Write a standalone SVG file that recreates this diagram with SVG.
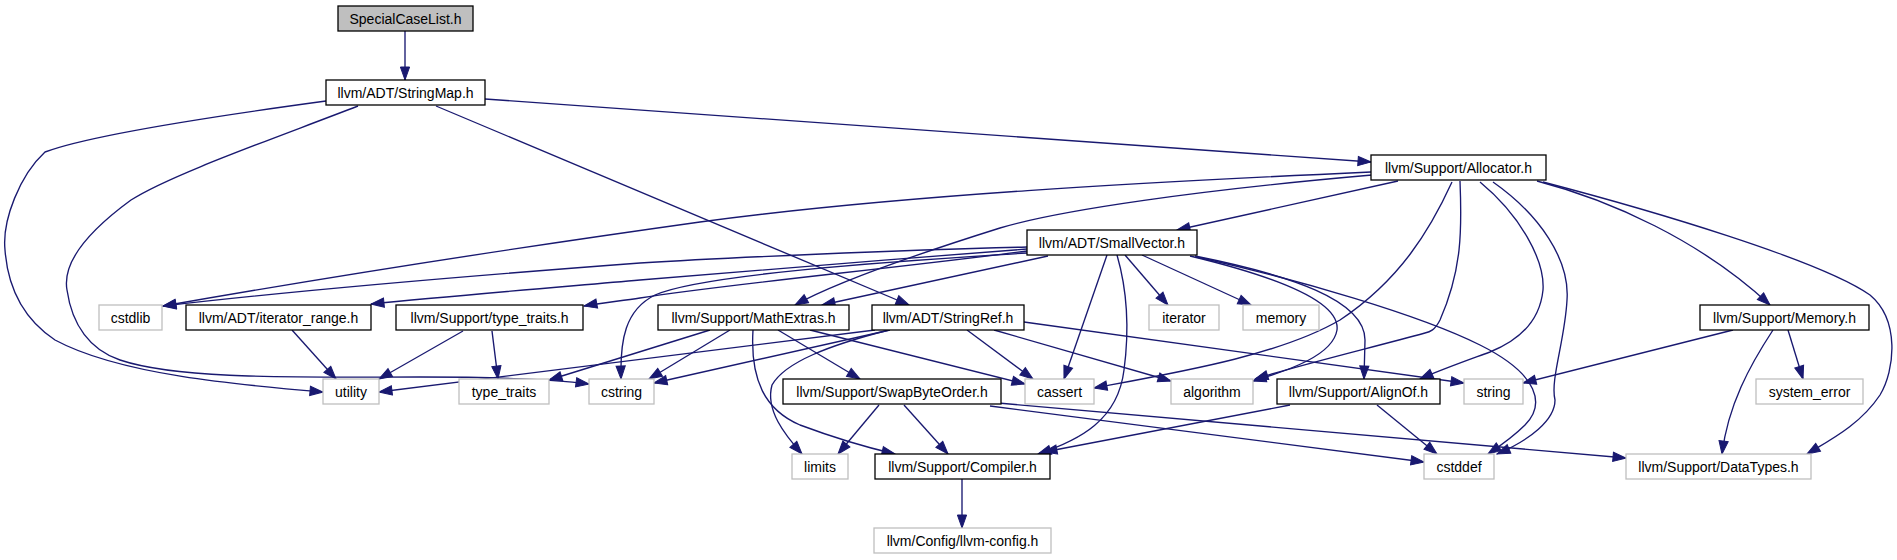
<svg xmlns="http://www.w3.org/2000/svg" width="1897" height="560" viewBox="0 0 1897 560">
<style>
.n rect{fill:#ffffff;stroke:#000000;stroke-width:1.3}
.x rect{fill:#ffffff;stroke:#bfbfbf;stroke-width:1.3}
.r rect{fill:#bfbfbf;stroke:#000000;stroke-width:1.3}
text{font-family:"Liberation Sans",Arial,sans-serif;font-size:14px;fill:#000000;text-anchor:middle}
#edges path{fill:none;stroke:#191970;stroke-width:1.35;marker-end:url(#a)}
</style>
<defs>
<marker id="a" markerWidth="14" markerHeight="10" refX="13" refY="5" orient="auto" markerUnits="userSpaceOnUse" overflow="visible">
<path d="M0,0.4 L13,5 L0,9.6 z" fill="#191970" stroke="#191970" stroke-width="1"/>
</marker>
</defs>
<rect width="1897" height="560" fill="#ffffff"/>
<g id="edges">
<path d="M405,31 L405,80"/>
<path d="M485,99 L1371,162"/>
<path d="M436,106 L909,305"/>
<path d="M358,106 C270,140 170,175 131,200 C90,230 62,262 67,290 C72,325 90,350 120,360 C180,380 300,377 420,377 C500,377 550,379 589,384"/>
<path d="M326,101 C230,114 90,135 45,152 C20,175 2,220 5,250 C8,290 25,320 55,340 C120,375 240,385 323,392"/>
<path d="M1398,181 L1177,230"/>
<path d="M1371,172 C1150,182 900,195 700,222 C500,250 300,282 163,306"/>
<path d="M1372,175 C1200,190 1060,210 1000,228 C930,250 840,280 795,305"/>
<path d="M1027,247 C900,250 720,258 640,263 C480,275 300,290 163,306"/>
<path d="M1027,249 C900,258 750,272 640,280 C560,287 450,296 371,304"/>
<path d="M1027,251 C880,270 720,285 640,298 C620,301 600,303 584,306"/>
<path d="M1027,253 C880,262 700,275 655,295 C625,310 620,340 621,379"/>
<path d="M1048,256 L822,305"/>
<path d="M1107,255 L1064,379"/>
<path d="M1117,255 C1130,300 1128,340 1124,370 C1118,420 1080,440 1038,454"/>
<path d="M1125,255 L1168,305"/>
<path d="M1142,255 L1251,305"/>
<path d="M1190,256 C1290,280 1340,305 1337,330 C1333,355 1290,370 1253,381"/>
<path d="M1195,256 C1290,275 1365,300 1365,340 L1364,379"/>
<path d="M1197,257 C1300,280 1420,315 1480,345 C1540,375 1545,405 1525,425 C1512,438 1500,446 1488,454"/>
<path d="M1452,182 C1430,230 1400,280 1340,320 C1280,355 1180,372 1094,388"/>
<path d="M1460,181 C1462,230 1462,270 1440,320 C1435,330 1430,332 1425,333 C1370,348 1300,365 1255,379"/>
<path d="M1480,182 C1520,215 1545,260 1543,290 C1540,320 1520,340 1490,352 C1460,363 1440,370 1420,379"/>
<path d="M1493,182 C1540,215 1570,260 1567,300 C1565,340 1550,380 1555,400 C1555,420 1530,440 1497,454"/>
<path d="M1537,181 C1610,200 1700,240 1770,305"/>
<path d="M1543,182 C1650,210 1820,260 1870,295 C1900,320 1895,370 1880,395 C1860,425 1830,440 1807,454"/>
<path d="M710,330 L549,380"/>
<path d="M730,330 L649,379"/>
<path d="M753,330 C750,380 765,410 800,425 C840,440 865,447 895,454"/>
<path d="M778,330 L860,379"/>
<path d="M810,330 L1025,384"/>
<path d="M875,330 L379,392"/>
<path d="M890,330 L654,383"/>
<path d="M889,330 C830,345 785,362 772,385 C765,410 785,435 802,454"/>
<path d="M967,330 L1033,379"/>
<path d="M994,330 L1171,381"/>
<path d="M1024,322 L1464,383"/>
<path d="M879,405 L838,454"/>
<path d="M904,405 L948,454"/>
<path d="M990,406 L1424,462"/>
<path d="M998,403 L1626,458"/>
<path d="M1290,405 L1044,452"/>
<path d="M1377,405 L1437,454"/>
<path d="M1733,330 L1523,383"/>
<path d="M1773,330 C1750,365 1728,405 1722,454"/>
<path d="M1788,330 L1803,379"/>
<path d="M292,330 L336,379"/>
<path d="M463,331 L379,379"/>
<path d="M492,331 L498,379"/>
<path d="M962,479 L962,528"/>
</g>
<g id="n0" class="r"><rect x="338" y="6" width="135" height="25"/><text x="405.5" y="23.5">SpecialCaseList.h</text></g>
<g id="n1" class="n"><rect x="326" y="80" width="159" height="25"/><text x="405.5" y="97.5">llvm/ADT/StringMap.h</text></g>
<g id="n2" class="n"><rect x="1371" y="155" width="175" height="25"/><text x="1458.5" y="172.5">llvm/Support/Allocator.h</text></g>
<g id="n3" class="n"><rect x="1027" y="230" width="170" height="25"/><text x="1112" y="247.5">llvm/ADT/SmallVector.h</text></g>
<g id="n4" class="x"><rect x="99" y="305" width="63" height="25"/><text x="130.5" y="322.5">cstdlib</text></g>
<g id="n5" class="n"><rect x="186" y="305" width="185" height="25"/><text x="278.5" y="322.5">llvm/ADT/iterator_range.h</text></g>
<g id="n6" class="n"><rect x="396" y="305" width="187" height="25"/><text x="489.5" y="322.5">llvm/Support/type_traits.h</text></g>
<g id="n7" class="n"><rect x="658" y="305" width="191" height="25"/><text x="753.5" y="322.5">llvm/Support/MathExtras.h</text></g>
<g id="n8" class="n"><rect x="872" y="305" width="152" height="25"/><text x="948" y="322.5">llvm/ADT/StringRef.h</text></g>
<g id="n9" class="x"><rect x="1149" y="305" width="70" height="25"/><text x="1184" y="322.5">iterator</text></g>
<g id="n10" class="x"><rect x="1243" y="305" width="76" height="25"/><text x="1281" y="322.5">memory</text></g>
<g id="n11" class="n"><rect x="1700" y="305" width="169" height="25"/><text x="1784.5" y="322.5">llvm/Support/Memory.h</text></g>
<g id="n12" class="x"><rect x="323" y="379" width="56" height="25"/><text x="351" y="396.5">utility</text></g>
<g id="n13" class="x"><rect x="459" y="379" width="90" height="25"/><text x="504" y="396.5">type_traits</text></g>
<g id="n14" class="x"><rect x="589" y="379" width="65" height="25"/><text x="621.5" y="396.5">cstring</text></g>
<g id="n15" class="n"><rect x="783" y="379" width="218" height="25"/><text x="892" y="396.5">llvm/Support/SwapByteOrder.h</text></g>
<g id="n16" class="x"><rect x="1025" y="379" width="69" height="25"/><text x="1059.5" y="396.5">cassert</text></g>
<g id="n17" class="x"><rect x="1171" y="379" width="82" height="25"/><text x="1212" y="396.5">algorithm</text></g>
<g id="n18" class="n"><rect x="1277" y="379" width="163" height="25"/><text x="1358.5" y="396.5">llvm/Support/AlignOf.h</text></g>
<g id="n19" class="x"><rect x="1464" y="379" width="59" height="25"/><text x="1493.5" y="396.5">string</text></g>
<g id="n20" class="x"><rect x="1756" y="379" width="107" height="25"/><text x="1809.5" y="396.5">system_error</text></g>
<g id="n21" class="x"><rect x="792" y="454" width="56" height="25"/><text x="820" y="471.5">limits</text></g>
<g id="n22" class="n"><rect x="875" y="454" width="175" height="25"/><text x="962.5" y="471.5">llvm/Support/Compiler.h</text></g>
<g id="n23" class="x"><rect x="1424" y="454" width="70" height="25"/><text x="1459" y="471.5">cstddef</text></g>
<g id="n24" class="x"><rect x="1626" y="454" width="185" height="25"/><text x="1718.5" y="471.5">llvm/Support/DataTypes.h</text></g>
<g id="n25" class="x"><rect x="874" y="528" width="177" height="25"/><text x="962.5" y="545.5">llvm/Config/llvm-config.h</text></g>
</svg>
